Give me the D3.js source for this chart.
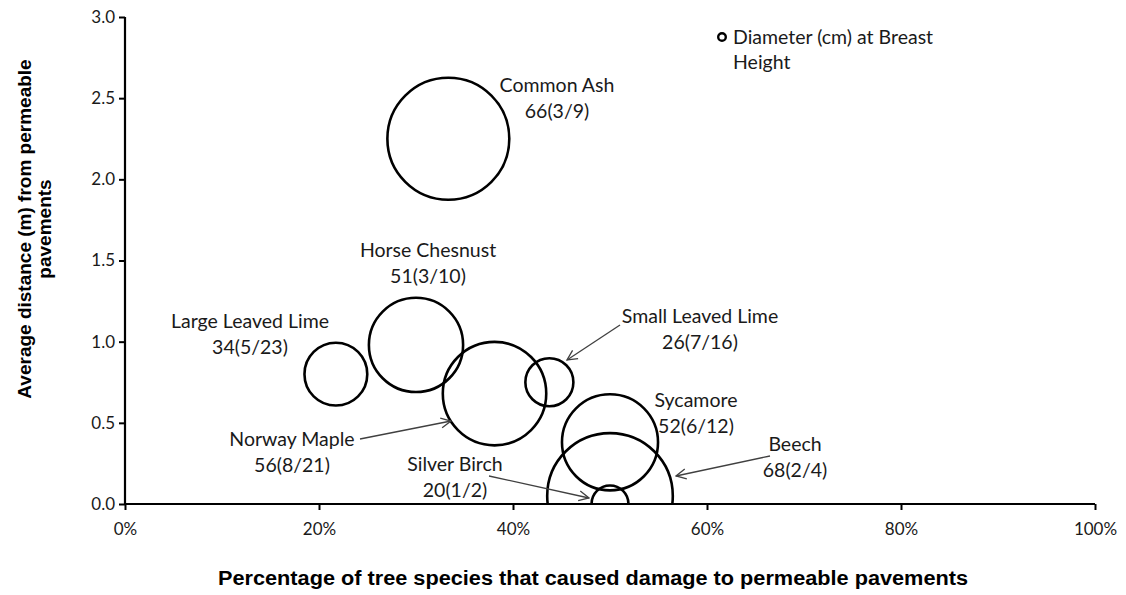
<!DOCTYPE html>
<html lang="en">
<head>
    <meta charset="UTF-8">
    <title>Tree species damage to permeable pavements</title>
    <script src="https://d3js.org/d3.v7.min.js"></script>
    <style>
        body {
            margin: 0;
            background: #fff;
            overflow: hidden;
        }
        .tick text, .lbl, .legend text {
            font-family: Lato, "Open Sans", sans-serif;
            fill: #1a1a1a;
        }
        .axis-title {
            font-family: "Liberation Sans", Arial, sans-serif;
            font-weight: bold;
            fill: #000;
        }
    </style>
</head>
<body>
<script>
    // data
    const species  = ["Common Ash", "Horse Chesnust", "Large Leaved Lime", "Norway Maple",
                      "Small Leaved Lime", "Sycamore", "Beech", "Silver Birch"];
    const damaged  = [3, 3, 5, 8, 7, 6, 2, 1];
    const total    = [9, 10, 23, 21, 16, 12, 4, 2];
    const distance = [2.25, 0.98, 0.80, 0.68, 0.75, 0.38, 0.05, 0.0];
    const diameter = [66, 51, 34, 56, 26, 52, 68, 20];

    const yTicks = [0, 0.5, 1.0, 1.5, 2.0, 2.5, 3.0];
    const xTicks = [0, 0.2, 0.4, 0.6, 0.8, 1.0];

    // label placement (text centre, first line baseline) and optional arrow [x1,y1,x2,y2]
    const labelPos = [
        {x: 557, y: 92,  arrow: null},
        {x: 428, y: 257, arrow: null},
        {x: 250, y: 328, arrow: null},
        {x: 292, y: 446, arrow: [360, 439, 451, 421]},
        {x: 700, y: 323, arrow: [620, 325, 567, 360]},
        {x: 696, y: 407, arrow: null},
        {x: 795, y: 451, arrow: [770, 456, 676, 476]},
        {x: 455, y: 471, arrow: [489, 476, 589, 498]}
    ];

    const width = 1126, height = 595;
    const svg = d3.select("body").append("svg")
        .attr("width", width)
        .attr("height", height);

    const x = d3.scaleLinear().domain([0, 1]).range([125, 1095]);
    const y = d3.scaleLinear().domain([0, 3]).range([504, 17]);
    const r = d3.scaleLinear().domain([0, 68]).range([0, 62.8]);

    // clip bubbles at the x axis
    svg.append("clipPath").attr("id", "plot")
        .append("rect")
        .attr("x", x(0)).attr("y", 0)
        .attr("width", x(1) - x(0)).attr("height", y(0));

    const pts = species.map((s, i) => ({
        name: s,
        px: damaged[i] / total[i],
        py: distance[i],
        d: diameter[i],
        label: diameter[i] + "(" + damaged[i] + "/" + total[i] + ")",
        pos: labelPos[i]
    }));

    svg.append("g")
        .attr("clip-path", "url(#plot)")
        .selectAll("circle")
        .data(pts)
        .enter()
        .append("circle")
        .attr("cx", d => x(d.px))
        .attr("cy", d => y(d.py))
        .attr("r", d => r(d.d))
        .attr("fill", "none")
        .attr("stroke", "#000")
        .attr("stroke-width", 2.6);

    // axes
    const yAxis = svg.append("g")
        .attr("transform", `translate(${x(0)},0)`)
        .call(d3.axisLeft(y).tickValues(yTicks).tickFormat(d3.format(".1f")).tickSize(6).tickPadding(4));
    const xAxis = svg.append("g")
        .attr("transform", `translate(0,${y(0)})`)
        .call(d3.axisBottom(x).tickValues(xTicks).tickFormat(d3.format(".0%")).tickSize(6).tickPadding(13));

    [yAxis, xAxis].forEach(a => {
        a.select(".domain").attr("stroke", "#000").attr("stroke-width", 2.2);
        a.selectAll(".tick line").attr("stroke", "#000").attr("stroke-width", 2);
        a.selectAll(".tick text").style("font-size", "17px");
    });
    // remove outer tick stubs of domain path
    yAxis.select(".domain").attr("d", `M0,${y(3)}V${y(0)}`);
    xAxis.select(".domain").attr("d", `M${x(0)},0H${x(1)}`);

    // arrows
    const defs = svg.append("defs");
    defs.append("marker")
        .attr("id", "arr")
        .attr("viewBox", "0 0 12 12")
        .attr("refX", 11).attr("refY", 6)
        .attr("markerWidth", 12).attr("markerHeight", 12)
        .attr("markerUnits", "userSpaceOnUse")
        .attr("orient", "auto")
        .append("path")
        .attr("d", "M1,1L11,6L1,11")
        .attr("fill", "none")
        .attr("stroke", "#404040")
        .attr("stroke-width", 1.3);

    svg.append("g").selectAll("line")
        .data(pts.filter(d => d.pos.arrow))
        .enter()
        .append("line")
        .attr("x1", d => d.pos.arrow[0]).attr("y1", d => d.pos.arrow[1])
        .attr("x2", d => d.pos.arrow[2]).attr("y2", d => d.pos.arrow[3])
        .attr("stroke", "#404040")
        .attr("stroke-width", 1.3)
        .attr("marker-end", "url(#arr)");

    // data labels
    const lbl = svg.append("g").selectAll("text")
        .data(pts)
        .enter()
        .append("text")
        .attr("class", "lbl")
        .attr("text-anchor", "middle")
        .attr("x", d => d.pos.x)
        .attr("y", d => d.pos.y)
        .style("font-size", "19.5px");
    lbl.append("tspan").text(d => d.name);
    lbl.append("tspan").attr("x", d => d.pos.x).attr("dy", 26).text(d => d.label);

    // legend
    const lg = svg.append("g").attr("class", "legend");
    lg.append("circle")
        .attr("cx", 722).attr("cy", 37).attr("r", 3.8)
        .attr("fill", "none").attr("stroke", "#000").attr("stroke-width", 2.4);
    const lt = lg.append("text").attr("x", 733).attr("y", 44).style("font-size", "19.5px");
    lt.append("tspan").text("Diameter (cm) at Breast");
    lt.append("tspan").attr("x", 733).attr("dy", 25).text("Height");

    // axis titles
    svg.append("text")
        .attr("class", "axis-title")
        .attr("text-anchor", "middle")
        .attr("x", 593).attr("y", 585)
        .attr("textLength", 750)
        .attr("lengthAdjust", "spacingAndGlyphs")
        .style("font-size", "20px")
        .text("Percentage of tree species that caused damage to permeable pavements");

    const yt = svg.append("text")
        .attr("class", "axis-title")
        .attr("text-anchor", "middle")
        .attr("transform", "translate(31,229) rotate(-90)")
        .style("font-size", "19px");
    yt.append("tspan").attr("x", 0).attr("y", 0).text("Average distance (m) from permeable");
    yt.append("tspan").attr("x", 0).attr("dy", 20).text("pavements");
</script>
</body>
</html>
